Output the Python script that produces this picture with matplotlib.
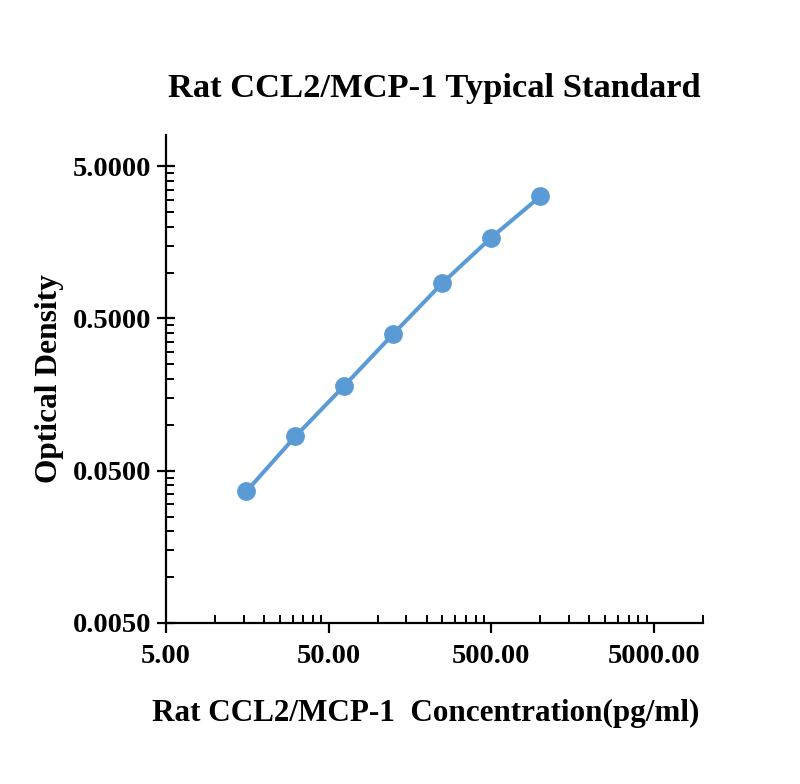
import matplotlib
matplotlib.use("Agg")
import matplotlib.pyplot as plt
from matplotlib.ticker import FixedLocator, NullFormatter

conc = [15.6, 31.25, 62.5, 125, 250, 500, 1000]
od = [0.0366, 0.0841, 0.181, 0.396, 0.853, 1.698, 3.16]
x_major = [5, 50, 500, 5000]
x_labels = ["5.00", "50.00", "500.00", "5000.00"]
y_major = [0.005, 0.05, 0.5, 5]
y_labels = ["0.0050", "0.0500", "0.5000", "5.0000"]

plt.rcParams['font.family'] = ['Liberation Serif', 'DejaVu Serif']
plt.rcParams['font.weight'] = 'bold'

fig = plt.figure(figsize=(8, 7.84), dpi=100)
ax = fig.add_axes([166/800, 1-623/784, (703-166)/800, (623-135)/784])

ax.plot(conc, od, color='#5B9BD5', lw=2.9, marker='o', ms=12.5,
        markerfacecolor='#5B9BD5', markeredgecolor='#5B9BD5', zorder=3)
ax.set_xscale('log')
ax.set_yscale('log')
ax.set_xlim(5, 10000)
ax.set_ylim(0.005, 8)

def minors(majors, top):
    out = []
    for m in majors:
        for k in range(2, 10):
            v = m * k
            if v <= top * 1.0001:
                out.append(v)
    return out

ax.xaxis.set_major_locator(FixedLocator(x_major))
ax.set_xticklabels(x_labels)
ax.xaxis.set_minor_locator(FixedLocator(minors(x_major, 10000)))
ax.xaxis.set_minor_formatter(NullFormatter())
ax.yaxis.set_major_locator(FixedLocator(y_major))
ax.set_yticklabels(y_labels)
ax.yaxis.set_minor_locator(FixedLocator(minors(y_major, 8)))
ax.yaxis.set_minor_formatter(NullFormatter())

for s in ['top', 'right']:
    ax.spines[s].set_visible(False)
for s in ['left', 'bottom']:
    ax.spines[s].set_linewidth(1.6)

ax.tick_params(axis='x', which='major', direction='out', length=7, width=1.6,
               labelsize=20.5, pad=8)
ax.tick_params(axis='y', which='major', direction='inout', length=13.5, width=1.6,
               labelsize=20.5, pad=4)
ax.tick_params(which='minor', direction='in', length=5.8, width=1.4)
for lab in ax.get_xticklabels() + ax.get_yticklabels():
    lab.set_fontweight('bold')

ax.set_title("Rat CCL2/MCP-1 Typical Standard", fontsize=24.8, fontweight='bold', pad=27)
ax.set_xlabel("Rat CCL2/MCP-1  Concentration(pg/ml)", fontsize=22.4, fontweight='bold', labelpad=15)
ax.xaxis.set_label_coords((426 - 166) / 537, -0.155)
ax.set_ylabel("Optical Density", fontsize=22.6, fontweight='bold', labelpad=6)

fig.savefig("out.png", dpi=100)
